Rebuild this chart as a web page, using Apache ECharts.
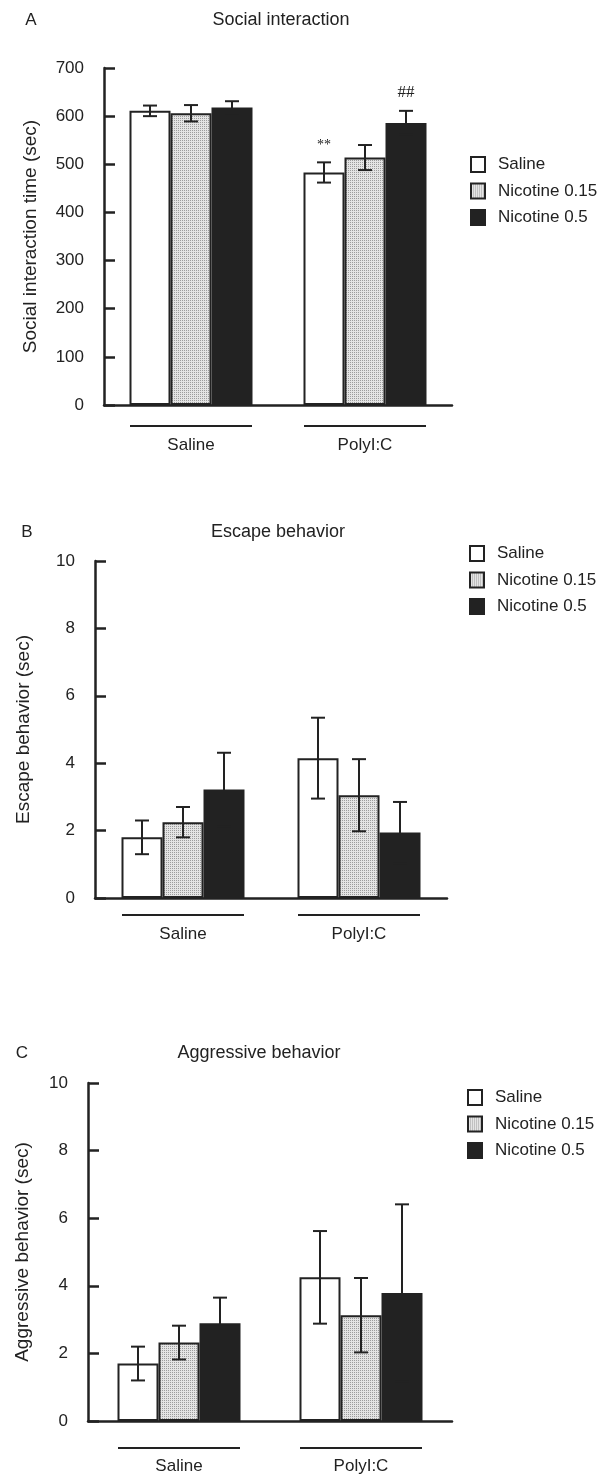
<!DOCTYPE html>
<html>
<head>
<meta charset="utf-8">
<script src="https://cdn.jsdelivr.net/npm/echarts@6/dist/echarts.min.js"></script>
<style>
  html, body { margin: 0; padding: 0; background: #fff; }
  #chart { width: 604px; height: 1475px; }
</style>
</head>
<body>
<div id="chart"></div>
<script>
var groups = ['Saline', 'PolyI:C'];
var treatments = ['Saline', 'Nicotine 0.15', 'Nicotine 0.5'];
var panelLetters = ['A', 'B', 'C'];
var panelTitles = ['Social interaction', 'Escape behavior', 'Aggressive behavior'];
var yNames = ['Social interaction time (sec)', 'Escape behavior (sec)', 'Aggressive behavior (sec)'];
var yMax = [700, 10, 10];
var yStep = [100, 2, 2];

// mean per treatment: [Saline group, PolyI:C group]
var socialMean = [[611, 483], [606, 514], [618, 586]];
var socialErr = [[11, 21], [17, 26], [13, 25]];
var socialMarks = [['', '**'], ['', ''], ['', '##']];

var escapeMean = [[1.8, 4.15], [2.25, 3.05], [3.22, 1.94]];
var escapeErr = [[0.5, 1.2], [0.45, 1.07], [1.09, 0.91]];
var escapeMarks = [['', ''], ['', ''], ['', '']];

var aggrMean = [[1.7, 4.25], [2.32, 3.13], [2.89, 3.79]];
var aggrErr = [[0.5, 1.37], [0.5, 1.1], [0.76, 2.62]];
var aggrMarks = [['', ''], ['', ''], ['', '']];

var means = [socialMean, escapeMean, aggrMean];
var errs = [socialErr, escapeErr, aggrErr];
var marks = [socialMarks, escapeMarks, aggrMarks];

// layout
var layout = [
  { left: 104, width: 348, top: 68, height: 337, nameGap: 64, labelMargin: 20, catLine: 36,
    letter: [31, 20], title: [281, 20], legend: [470, 156] },
  { left: 95, width: 352, top: 561, height: 337, nameGap: 62, labelMargin: 16, catLine: 36,
    letter: [27, 532], title: [278, 532], legend: [469, 545] },
  { left: 88, width: 364, top: 1083, height: 338, nameGap: 56, labelMargin: 26, catLine: 34,
    letter: [22, 1053], title: [259, 1053], legend: [467, 1089] }
];
var barW = 41;
var ink = '#222';
var font = 'Liberation Sans, Arial, sans-serif';

// stipple fill for Nicotine 0.15
var pat = document.createElement('canvas');
pat.width = 2; pat.height = 2;
var pctx = pat.getContext('2d');
pctx.fillStyle = '#e4e4e4';
pctx.fillRect(0, 0, 2, 2);
pctx.fillStyle = '#9c9c9c';
pctx.fillRect(0, 0, 1, 1);
var fills = ['#ffffff', { image: pat, repeat: 'repeat' }, ink];

var chart = echarts.init(document.getElementById('chart'));

var grids = [], xAxes = [], yAxes = [], series = [], legends = [], graphics = [];

layout.forEach(function (L, p) {
  grids.push({ left: L.left, top: L.top, width: L.width, height: L.height });
  xAxes.push({
    type: 'category',
    gridIndex: p,
    data: groups,
    axisLine: { lineStyle: { color: ink, width: 2.5 } },
    axisTick: { show: false },
    axisLabel: {
      margin: L.labelMargin,
      formatter: function (v) { return '{line| }\n{name|' + v + '}'; },
      rich: {
        line: { width: 122, height: 2, lineHeight: 2, backgroundColor: ink, fontSize: 1 },
        name: { fontSize: 17, fontFamily: font, color: ink, lineHeight: L.catLine, align: 'center' }
      }
    }
  });
  yAxes.push({
    type: 'value',
    gridIndex: p,
    min: 0,
    max: yMax[p],
    interval: yStep[p],
    name: yNames[p],
    nameLocation: 'middle',
    nameGap: L.nameGap,
    nameTextStyle: { fontSize: 19, fontFamily: font, color: ink },
    splitLine: { show: false },
    axisLine: { show: true, lineStyle: { color: ink, width: 2.5 } },
    axisTick: { show: true, inside: true, length: 11, lineStyle: { color: ink, width: 2.5 } },
    axisLabel: { fontSize: 17, fontFamily: font, color: ink, margin: 20 }
  });

  treatments.forEach(function (t, s) {
    series.push({
      type: 'bar',
      name: t,
      xAxisIndex: p,
      yAxisIndex: p,
      barWidth: barW,
      barGap: '0%',
      itemStyle: { color: fills[s], borderColor: ink, borderWidth: 2 },
      data: means[p][s]
    });
  });

  var ebData = [], ebMarks = [];
  treatments.forEach(function (t, s) {
    groups.forEach(function (g, c) {
      ebData.push([c, s, means[p][s][c], errs[p][s][c]]);
      ebMarks.push(marks[p][s][c]);
    });
  });
  series.push({
    type: 'custom',
    xAxisIndex: p,
    yAxisIndex: p,
    z: 5,
    silent: true,
    encode: { x: 0, y: 2 },
    data: ebData,
    renderItem: function (params, api) {
      var c = api.value(0), s = api.value(1), m = api.value(2), e = api.value(3);
      var dx = (s - 1) * barW;
      var hi = api.coord([c, m + e]);
      var lo = api.coord([c, m - e]);
      var x = hi[0] + dx;
      var cap = 7;
      var st = { stroke: ink, lineWidth: 2 };
      var children = [
        { type: 'line', shape: { x1: x, y1: hi[1], x2: x, y2: lo[1] }, style: st },
        { type: 'line', shape: { x1: x - cap, y1: hi[1], x2: x + cap, y2: hi[1] }, style: st },
        { type: 'line', shape: { x1: x - cap, y1: lo[1], x2: x + cap, y2: lo[1] }, style: st }
      ];
      var mk = ebMarks[params.dataIndex];
      if (mk) {
        children.push({
          type: 'text',
          x: x, y: hi[1] - 10,
          style: {
            text: mk, align: 'center', verticalAlign: 'bottom',
            fontSize: mk === '##' ? 17 : 14, fontFamily: 'Liberation Serif, serif', fill: ink
          }
        });
      }
      return { type: 'group', children: children };
    }
  });

  legends.push({
    orient: 'vertical',
    left: L.legend[0],
    top: L.legend[1],
    itemWidth: 14,
    itemHeight: 15,
    itemGap: 9.5,
    padding: 0,
    icon: 'rect',
    selectedMode: false,
    textStyle: { fontSize: 17, fontFamily: font, color: ink, padding: [0, 0, 0, 8] },
    data: treatments
  });

  graphics.push({
    type: 'text', x: L.letter[0], y: L.letter[1],
    style: { text: panelLetters[p], fontSize: 17, fontFamily: font, fill: ink, align: 'center', verticalAlign: 'middle' }
  });
  graphics.push({
    type: 'text', x: L.title[0], y: L.title[1],
    style: { text: panelTitles[p], fontSize: 18, fontFamily: font, fill: ink, align: 'center', verticalAlign: 'middle' }
  });
});

var option = {
  backgroundColor: '#fff',
  animation: false,
  grid: grids,
  xAxis: xAxes,
  yAxis: yAxes,
  legend: legends,
  graphic: graphics,
  series: series
};
chart.setOption(option);
</script>
</body>
</html>
